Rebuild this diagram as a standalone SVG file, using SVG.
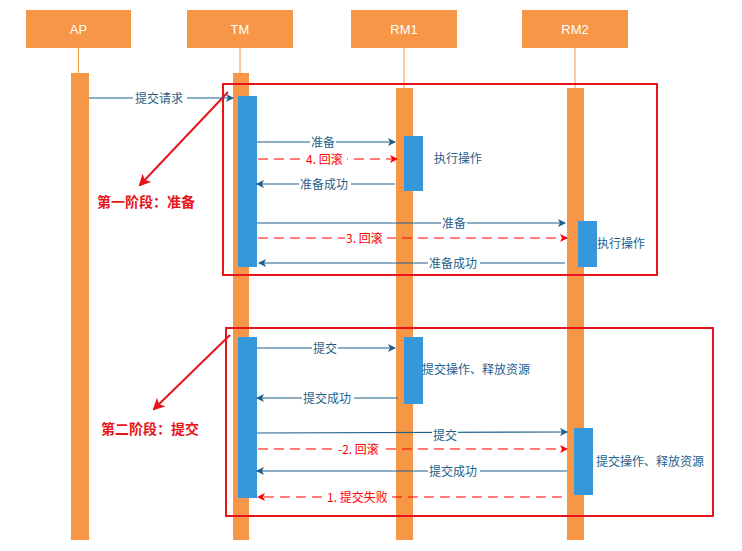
<svg xmlns="http://www.w3.org/2000/svg" width="742" height="551" viewBox="0 0 742 551">
<defs>
<style>
.hd{fill:#f79646}
.ht{font-family:"Liberation Sans",Arial,sans-serif;font-size:13px;fill:#fff;text-anchor:middle}
.ll{fill:#f79646}
.tl{stroke:#f79646;stroke-width:1}
.act{fill:#3498db}
.m{stroke:#1f5f8b;stroke-width:1.2;fill:none;marker-end:url(#ab)}
.r{stroke:#f00;stroke-width:1.2;fill:none;stroke-dasharray:10,6;marker-end:url(#ar)}
.t{font-family:"Noto Sans CJK SC","Liberation Sans",sans-serif;font-size:12px;fill:#1f5f8b}
.tr{font-family:"Noto Sans CJK SC","Liberation Sans",sans-serif;font-size:12px;fill:#f00}
.lb{fill:#fff}
.box{fill:none;stroke:#e8141c;stroke-width:2}
.ph{font-family:"Noto Sans CJK SC",sans-serif;font-size:14px;font-weight:bold;fill:#e8141c;text-anchor:middle}
</style>
<marker id="ab" markerWidth="8" markerHeight="8" refX="7" refY="4" orient="auto" markerUnits="userSpaceOnUse"><path d="M0,0 L8,4 L0,8 L2,4 z" fill="#1f5f8b"/></marker>
<marker id="ar" markerWidth="8" markerHeight="8" refX="7" refY="4" orient="auto" markerUnits="userSpaceOnUse"><path d="M0,0 L8,4 L0,8 L2,4 z" fill="#f00"/></marker>
<marker id="arr" markerWidth="12" markerHeight="12" refX="10" refY="6" orient="auto" markerUnits="userSpaceOnUse"><path d="M0,0 L12,6 L0,12 L3,6 z" fill="#e8141c"/></marker>
</defs>
<rect width="742" height="551" fill="#fff"/>
<g id="AP"><rect class="hd" x="26" y="10" width="105" height="38"/><text class="ht" x="78.5" y="34">AP</text><line class="tl" x1="78.5" y1="48" x2="78.5" y2="73"/><rect class="ll" x="71" y="73" width="18" height="467"/></g>
<g id="TM"><rect class="hd" x="187" y="10" width="106" height="38"/><text class="ht" x="240" y="34">TM</text><line class="tl" x1="240" y1="48" x2="240" y2="73"/><rect class="ll" x="233" y="73" width="16" height="467"/>
<rect class="act" x="238" y="96" width="19" height="171"/><rect class="act" x="238" y="337" width="19" height="161"/></g>
<g id="RM1"><rect class="hd" x="351" y="10" width="106" height="38"/><text class="ht" x="404" y="34">RM1</text><line class="tl" x1="404" y1="48" x2="404" y2="88"/><rect class="ll" x="396" y="88" width="17" height="452"/>
<rect class="act" x="404" y="136" width="19" height="55"/><rect class="act" x="404" y="337" width="19" height="67"/>
<text class="t" x="434" y="163">执行操作</text><text class="t" x="422" y="374">提交操作、释放资源</text></g>
<g id="RM2"><rect class="hd" x="522" y="10" width="106" height="38"/><text class="ht" x="575" y="34">RM2</text><line class="tl" x1="575" y1="48" x2="575" y2="88"/><rect class="ll" x="567" y="88" width="17" height="452"/>
<rect class="act" x="578" y="221" width="19" height="46"/><rect class="act" x="574" y="428" width="19" height="67"/>
<text class="t" x="597" y="248">执行操作</text><text class="t" x="596" y="466">提交操作、释放资源</text></g>
<g id="phases">
<rect class="box" x="223" y="84" width="434" height="191"/>
<rect class="box" x="226" y="328" width="487" height="188"/>
<line x1="228" y1="92" x2="140" y2="185" stroke="#e8141c" stroke-width="2" marker-end="url(#arr)"/>
<line x1="230" y1="335" x2="154" y2="409" stroke="#e8141c" stroke-width="2" marker-end="url(#arr)"/>
<text class="ph" x="146" y="207">第一阶段：准备</text>
<text class="ph" x="150" y="434">第二阶段：提交</text>
</g>
<g id="connectors">
<line class="m" x1="89" y1="98" x2="233" y2="98"/>
<line class="m" x1="257" y1="142" x2="395" y2="142"/>
<line class="r" x1="258" y1="159" x2="397" y2="159"/>
<line class="m" x1="395" y1="184" x2="257" y2="184"/>
<line class="m" x1="257" y1="223" x2="565" y2="223"/>
<line class="r" x1="258" y1="238" x2="567" y2="238"/>
<line class="m" x1="565" y1="263" x2="259" y2="263"/>
<line class="m" x1="257" y1="348" x2="395" y2="348"/>
<line class="m" x1="398" y1="398" x2="257" y2="398"/>
<line class="m" x1="257" y1="433" x2="567" y2="432"/>
<line class="r" x1="258" y1="449" x2="567" y2="449"/>
<line class="m" x1="567" y1="471" x2="257" y2="471"/>
<line class="r" x1="562" y1="497" x2="258" y2="497"/>
<rect class="lb" x="133" y="90" width="54" height="16"/><text class="t" x="135" y="103">提交请求</text>
<rect class="lb" x="310" y="134" width="26" height="16"/><text class="t" x="311" y="147">准备</text>
<rect class="lb" x="305" y="151" width="42" height="16"/><text class="tr" x="306" y="164">4. 回滚</text>
<rect class="lb" x="299" y="176" width="52" height="16"/><text class="t" x="300" y="189">准备成功</text>
<rect class="lb" x="441" y="215" width="26" height="16"/><text class="t" x="442" y="228">准备</text>
<rect class="lb" x="345" y="230" width="42" height="16"/><text class="tr" x="346" y="243">3. 回滚</text>
<rect class="lb" x="428" y="255" width="52" height="16"/><text class="t" x="429" y="268">准备成功</text>
<rect class="lb" x="312" y="340" width="26" height="16"/><text class="t" x="313" y="353">提交</text>
<rect class="lb" x="302" y="390" width="52" height="16"/><text class="t" x="303" y="403">提交成功</text>
<rect class="lb" x="432" y="427" width="26" height="16"/><text class="t" x="433" y="440">提交</text>
<rect class="lb" x="337" y="441" width="44" height="16"/><text class="tr" x="338" y="454">-2. 回滚</text>
<rect class="lb" x="428" y="463" width="52" height="16"/><text class="t" x="429" y="476">提交成功</text>
<rect class="lb" x="326" y="489" width="66" height="16"/><text class="tr" x="327" y="502">1. 提交失败</text>
</g>
</svg>
